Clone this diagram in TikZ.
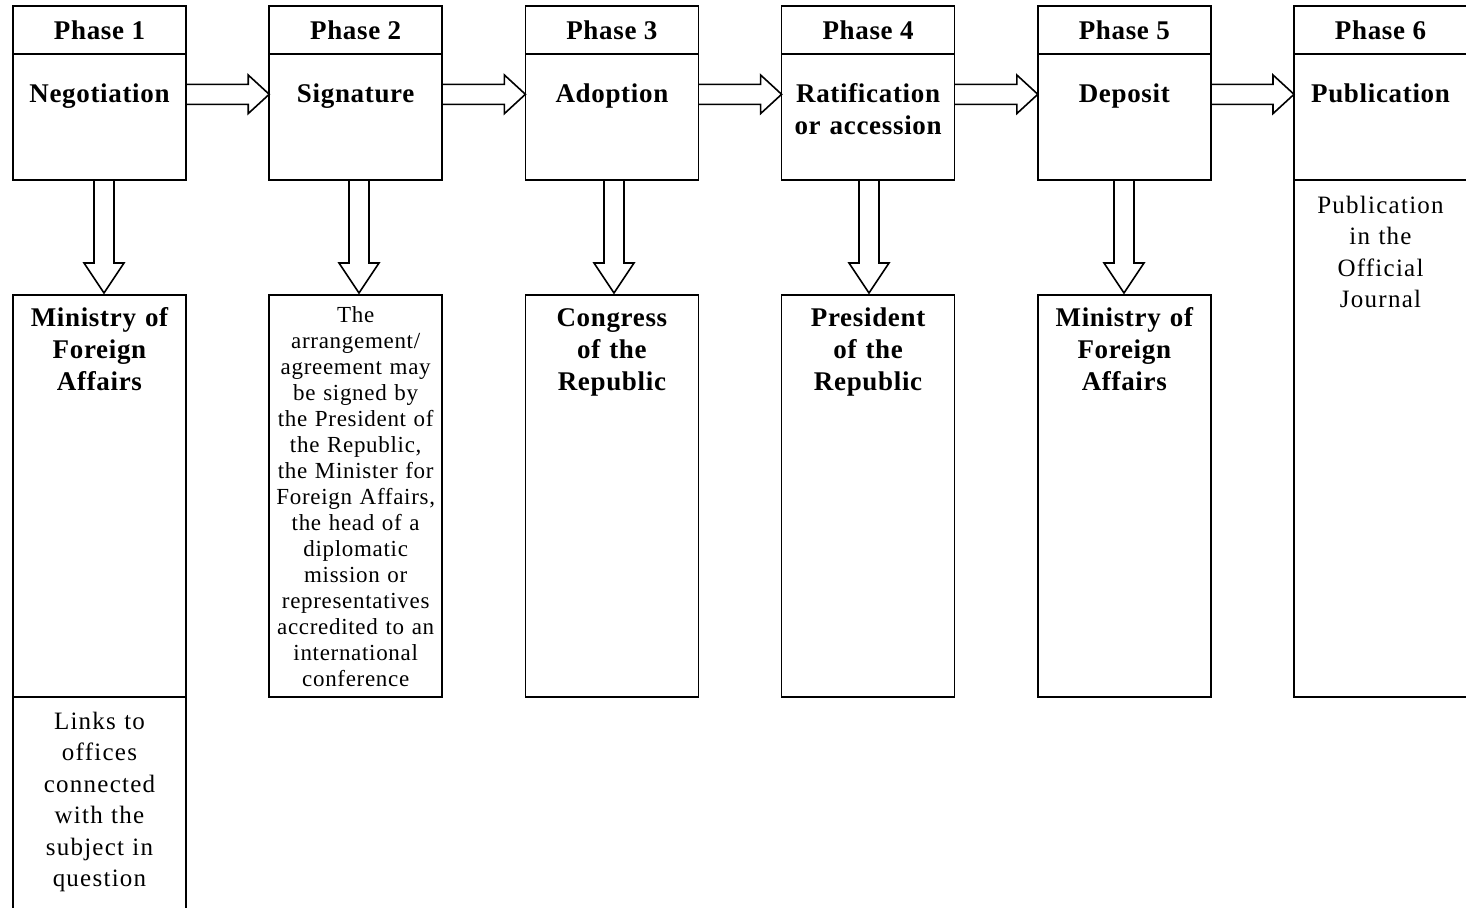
\documentclass[tikz,border=0pt]{standalone}
\usepackage{fontspec}
\setmainfont{Liberation Serif}
\newfontfamily\boldface{Liberation Serif}[LetterSpace=2.5]
\newfontfamily\plainface{Liberation Serif}[LetterSpace=3]
\newfontfamily\noteface{Liberation Serif}[LetterSpace=5]
\usetikzlibrary{calc}

\tikzset{
  box/.style={draw, line width=1.6pt, minimum width=173pt, inner sep=0pt, outer sep=0pt},
  fat/.style={draw, line width=1.6pt, line join=miter},
  phase/.style={anchor=base, inner sep=0pt, font=\boldface\bfseries\fontsize{27}{32}\selectfont},
  title/.style={anchor=base, inner sep=0pt, text width=210pt, align=center,
                font=\boldface\bfseries\fontsize{27}{32}\selectfont},
  small/.style={anchor=base, inner sep=0pt, text width=210pt, align=center,
                font=\plainface\fontsize{23}{26.07}\selectfont},
  note/.style={anchor=base, inner sep=0pt, text width=210pt, align=center,
               font=\noteface\fontsize{25}{31.5}\selectfont},
}

% horizontal block arrow between two phase bodies
\newcommand\harr[2]{%
  \draw[fat] (#1.east |- 0,84.3) -- ([xshift=-21pt]#2.west |- 0,84.3)
    -- ([xshift=-21pt]#2.west |- 0,75) -- (#2.west |- 0,94.3)
    -- ([xshift=-21pt]#2.west |- 0,113.6) -- ([xshift=-21pt]#2.west |- 0,104.3)
    -- (#1.east |- 0,104.3);}
% vertical block arrow from a phase body down to its lower box
\newcommand\varr[3]{%
  \draw[fat] (#3-10,0 |- #1.south) -- ([yshift=32pt]#3-10,0 |- #2.north)
    -- ([yshift=32pt]#3-20,0 |- #2.north) -- ([yshift=2pt]#3,0 |- #2.north)
    -- ([yshift=32pt]#3+20,0 |- #2.north) -- ([yshift=32pt]#3+10,0 |- #2.north)
    -- (#3+10,0 |- #1.south);}

\begin{document}
\begin{tikzpicture}[x=1pt,y=-1pt]
\useasboundingbox (0,0) rectangle (1466,907);
\clip (0,0) rectangle (1466,907);
\fill[white] (0,0) rectangle (1466,907);

% phase columns: header, body
\foreach \i/\cx in {1/99.5,2/355.7,3/611.9,4/868.1,5/1124.3,6/1380.5}{
  \node[box, minimum height=48pt]  (h\i) at (\cx,30) {};
  \node[box, minimum height=126pt] (b\i) at (\cx,117) {};
}
% lower boxes
\foreach \i/\cx in {1/99.5,2/355.7,3/611.9,4/868.1,5/1124.3}{
  \node[box, minimum height=402pt] (l\i) at (\cx,496) {};
}
\node[box, minimum height=240pt] (e1) at (99.5,817) {};
\node[box, minimum height=517pt] (p6) at (1380.5,438.5) {};

% headers
\node[phase] (ph1) at (99.5,39.3)  {Phase 1};
\node[phase] (ph2) at (355.7,39.3) {Phase 2};
\node[phase] (ph3) at (611.9,39.3) {Phase 3};
\node[phase] (ph4) at (868.1,39.3) {Phase 4};
\node[phase] (ph5) at (1124.3,39.3){Phase 5};
\node[phase] (ph6) at (1380.5,39.3){Phase 6};

% phase titles
\node[title] (tt1) at (99.5,102.5)  {Negotiation};
\node[title] (tt2) at (355.7,102.5) {Signature};
\node[title] (tt3) at (611.9,102.5) {Adoption};
\node[title] (tt4) at (868.1,102.5) {Ratification\\or accession};
\node[title] (tt5) at (1124.3,102.5){Deposit};
\node[title] (tt6) at (1380.5,102.5){Publication};

% responsible bodies
\node[title] (r1) at (99.5,326)   {Ministry of\\Foreign\\Affairs};
\node[small] (r2) at (355.7,322)  {The\\arrangement/\\agreement may\\be signed by\\the President of\\the Republic,\\the Minister for\\Foreign Affairs,\\the head of a\\diplomatic\\mission or\\representatives\\accredited to an\\international\\conference};
\node[title] (r3) at (611.9,326)  {Congress\\of the\\Republic};
\node[title] (r4) at (868.1,326)  {President\\of the\\Republic};
\node[title] (r5) at (1124.3,326) {Ministry of\\Foreign\\Affairs};
\node[note]  (r6) at (1380.5,213) {Publication\\in the\\Official\\Journal};
\node[note]  (lk) at (99.5,729)   {Links to\\offices\\connected\\with the\\subject in\\question};

% connectors
\harr{b1}{b2}\harr{b2}{b3}\harr{b3}{b4}\harr{b4}{b5}\harr{b5}{b6}
\varr{b1}{l1}{104}
\varr{b2}{l2}{359}
\varr{b3}{l3}{614}
\varr{b4}{l4}{869}
\varr{b5}{l5}{1124}
\end{tikzpicture}
\end{document}
